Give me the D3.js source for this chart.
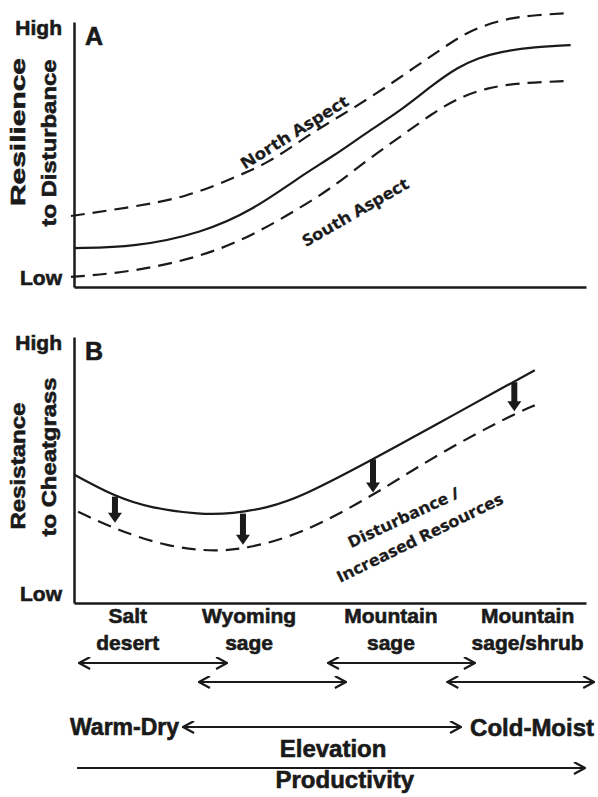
<!DOCTYPE html>
<html>
<head>
<script src="https://cdnjs.cloudflare.com/ajax/libs/d3/7.8.5/d3.min.js"></script>
<style>
    body { margin: 0; background: #fff; }
    text { font-family: "Liberation Sans", Arial, sans-serif; font-weight: bold; fill: #1a1a1a;
           stroke: #1a1a1a; stroke-width: 0.6px; }
    .note { font-family: "Open Sans", sans-serif; font-weight: bold; stroke-width: 0.3px; }
</style>
</head>
<body>
<div id="chart"></div>
<script>
    // x = position along the elevation gradient (0-100), y = level (0 = Low, 100 = High)
    const aSolidX = [0, 12, 25, 35, 44, 51, 57, 64, 70, 75, 79, 83, 90, 97];
    const aSolidY = [14.7, 15.1, 20.4, 29.1, 41.5, 49.8, 58.1, 66.8, 76.2, 83.0, 86.4, 88.7, 90.6, 91.3];
    const aNorthX = [-0.6, 11.5, 22.1, 31.1, 38.3, 44.1, 50.0, 54.9, 60.7, 66.6, 71.5, 75.8, 80.3, 85.2, 90.0, 96.9];
    const aNorthY = [26.8, 30.2, 34.0, 41.1, 47.2, 55.1, 62.3, 67.9, 75.1, 83.0, 89.4, 95.1, 98.9, 101.5, 102.6, 103.4];
    const aSouthX = [-0.6, 11.5, 24.6, 34.4, 44.1, 50.6, 57.2, 63.7, 70.1, 75.4, 80.7, 86.5, 96.3];
    const aSouthY = [3.8, 5.7, 11.3, 18.9, 29.8, 37.7, 47.9, 56.6, 65.7, 71.7, 75.1, 77.0, 77.7];

    const bIntactX = [0, 8, 14.8, 24.6, 31.1, 37.7, 44.1, 58.4, 70.1, 85.7, 90.0];
    const bIntactY = [48.3, 40.0, 35.8, 33.2, 33.6, 35.8, 39.6, 54.0, 66.4, 83.0, 87.5];
    const bDisturbedX = [0.8, 8.4, 18.2, 27.9, 34.4, 44.1, 57.8, 71.5, 86.5, 90.0];
    const bDisturbedY = [34.3, 27.5, 21.1, 19.2, 20.8, 25.7, 39.6, 56.6, 71.6, 74.3];

    // downward arrows: intact level -> disturbed level
    const dropX = [8, 33, 58.4, 86];
    const dropFrom = [40, 33.6, 54.0, 83.0];
    const dropTo = [30.2, 21.9, 41.5, 72.1];

    const levelValues = [3.8, 98];
    const levelLabels = ["Low", "High"];

    const zoneLines = [["Salt", "desert"], ["Wyoming", "sage"], ["Mountain", "sage"], ["Mountain", "sage/shrub"]];
    const zoneCenters = [10.5, 34.2, 61.9, 88.6];
    const zoneStart = [1.0, 24.4, 49.6, 72.9];
    const zoneEnd = [29.9, 53.1, 78.3, 101.6];
    const zoneRow = [0, 1, 0, 1];

    const svg = d3.select("#chart").append("svg")
        .attr("width", 598)
        .attr("height", 797);

    svg.append("defs").append("marker")
        .attr("id", "chev")
        .attr("viewBox", "0 0 13 13")
        .attr("refX", 12).attr("refY", 6.5)
        .attr("markerWidth", 13).attr("markerHeight", 13)
        .attr("markerUnits", "userSpaceOnUse")
        .attr("orient", "auto-start-reverse")
        .append("path")
        .attr("d", "M1,0.5 L12,6.5 L1,12.5")
        .attr("fill", "none")
        .attr("stroke", "#1a1a1a")
        .attr("stroke-width", 2.2);

    const x = d3.scaleLinear().domain([0, 100]).range([74, 586]);
    const yA = d3.scaleLinear().domain([0, 100]).range([287, 22]);
    const yB = d3.scaleLinear().domain([0, 100]).range([603, 337]);

    function drawAxes(y, letter, label1, label2, len1, len2, c1, c2) {
        const g = svg.append("g");
        g.append("g")
            .attr("transform", `translate(${x(0)},0)`)
            .call(d3.axisLeft(y).tickValues(levelValues)
                .tickFormat((d, i) => levelLabels[i])
                .tickSize(0).tickSizeOuter(0).tickPadding(12))
            .call(a => a.select(".domain").attr("stroke", "#1a1a1a").attr("stroke-width", 2.5))
            .call(a => a.selectAll("text").attr("font-size", 21)
                .attr("font-family", null).attr("fill", null).attr("dy", "0.34em"));
        g.append("g")
            .attr("transform", `translate(0,${y(0)})`)
            .call(d3.axisBottom(x).tickValues([]).tickSizeOuter(0))
            .call(a => a.select(".domain").attr("stroke", "#1a1a1a").attr("stroke-width", 2.5));

        g.append("text")
            .attr("x", x(0) + 11).attr("y", y(100) + 23)
            .attr("font-size", 25)
            .text(letter);

        g.append("text")
            .attr("transform", `translate(25,${c1}) rotate(-90)`)
            .attr("text-anchor", "middle")
            .attr("font-size", 21)
            .attr("textLength", len1).attr("lengthAdjust", "spacingAndGlyphs")
            .text(label1);
        g.append("text")
            .attr("transform", `translate(56,${c2}) rotate(-90)`)
            .attr("text-anchor", "middle")
            .attr("font-size", 21)
            .attr("textLength", len2).attr("lengthAdjust", "spacingAndGlyphs")
            .text(label2);
    }

    function drawCurve(xs, ys, y, dashed) {
        const line = d3.line()
            .x((d, i) => x(xs[i]))
            .y(d => y(d))
            .curve(d3.curveBasis);
        svg.append("path")
            .attr("d", line(ys))
            .attr("fill", "none")
            .attr("stroke", "#1a1a1a")
            .attr("stroke-width", 2.2)
            .attr("stroke-dasharray", dashed ? "14,8" : null);
    }

    function note(text, xv, yv, y, angle, len) {
        svg.append("text")
            .attr("class", "note")
            .attr("transform", `translate(${x(xv)},${y(yv)}) rotate(${angle})`)
            .attr("text-anchor", "middle")
            .attr("font-size", 16)
            .attr("textLength", len).attr("lengthAdjust", "spacingAndGlyphs")
            .text(text);
    }

    // Panel A
    drawAxes(yA, "A", "Resilience", "to Disturbance", 148, 167, 132, 143);
    drawCurve(aSolidX, aSolidY, yA, false);
    drawCurve(aNorthX, aNorthY, yA, true);
    drawCurve(aSouthX, aSouthY, yA, true);
    note("North Aspect", 43.6, 56.6, yA, -32, 124);
    note("South Aspect", 55.5, 26.4, yA, -30, 120);

    // Panel B
    drawAxes(yB, "B", "Resistance", "to Cheatgrass", 127, 159, 466, 457);
    drawCurve(bIntactX, bIntactY, yB, false);
    drawCurve(bDisturbedX, bDisturbedY, yB, true);
    note("Disturbance /", 64.8, 30.2, yB, -25, 121);
    note("Increased Resources", 68.0, 22.6, yB, -26, 183);

    const drops = svg.append("g");
    dropX.forEach((dx, i) => {
        const px = x(dx), top = yB(dropFrom[i]), tip = yB(dropTo[i]);
        drops.append("line")
            .attr("x1", px).attr("x2", px)
            .attr("y1", top).attr("y2", tip - 8)
            .attr("stroke", "#1a1a1a").attr("stroke-width", 6);
        drops.append("path")
            .attr("d", `M${px - 7},${tip - 10} L${px + 7},${tip - 10} L${px},${tip} Z`)
            .attr("fill", "#1a1a1a");
    });

    // Vegetation zones along the gradient
    const base = yB(0);
    zoneLines.forEach((lines, i) => {
        const t = svg.append("text")
            .attr("text-anchor", "middle")
            .attr("font-size", 21);
        lines.forEach((l, j) => {
            t.append("tspan")
                .attr("x", x(zoneCenters[i]))
                .attr("y", base + 20 + j * 27)
                .text(l);
        });
        svg.append("line")
            .attr("x1", x(zoneStart[i])).attr("x2", x(zoneEnd[i]))
            .attr("y1", base + 60 + zoneRow[i] * 19)
            .attr("y2", base + 60 + zoneRow[i] * 19)
            .attr("stroke", "#1a1a1a").attr("stroke-width", 2)
            .attr("marker-start", "url(#chev)")
            .attr("marker-end", "url(#chev)");
    });

    // Elevation / productivity gradient
    const elevY = base + 124;
    svg.append("line")
        .attr("x1", x(21.3)).attr("x2", x(75.6))
        .attr("y1", elevY).attr("y2", elevY)
        .attr("stroke", "#1a1a1a").attr("stroke-width", 2)
        .attr("marker-start", "url(#chev)")
        .attr("marker-end", "url(#chev)");
    svg.append("text")
        .attr("x", x(21.3) - 4).attr("y", elevY + 8)
        .attr("text-anchor", "end")
        .attr("font-size", 23)
        .text("Warm-Dry");
    svg.append("text")
        .attr("x", x(75.6) + 9).attr("y", elevY + 9)
        .attr("font-size", 24)
        .text("Cold-Moist");
    svg.append("text")
        .attr("x", x(50.6)).attr("y", elevY + 30)
        .attr("text-anchor", "middle")
        .attr("font-size", 24)
        .text("Elevation");

    const prodY = base + 165;
    svg.append("line")
        .attr("x1", x(0.6)).attr("x2", x(99.8))
        .attr("y1", prodY).attr("y2", prodY)
        .attr("stroke", "#1a1a1a").attr("stroke-width", 2)
        .attr("marker-end", "url(#chev)");
    svg.append("text")
        .attr("x", x(52.9)).attr("y", prodY + 20)
        .attr("text-anchor", "middle")
        .attr("font-size", 24)
        .text("Productivity");
</script>
</body>
</html>
